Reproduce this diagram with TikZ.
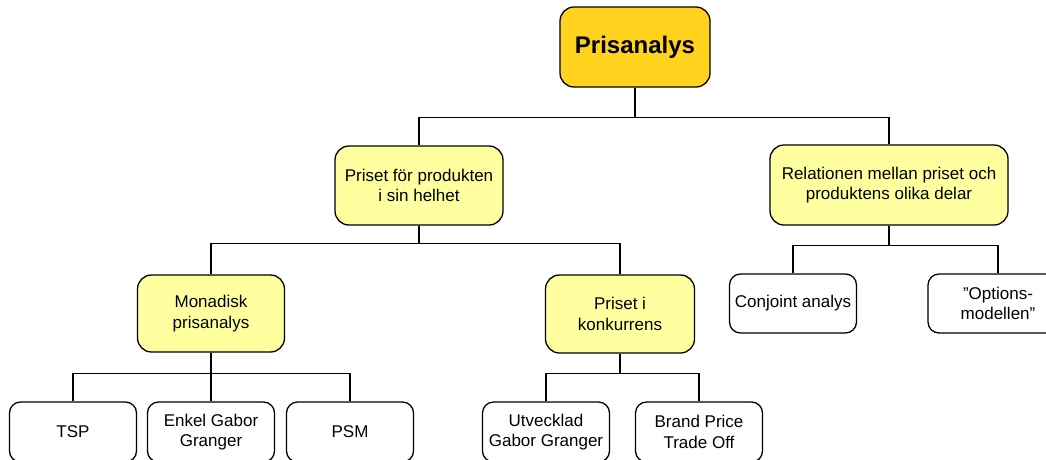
\documentclass[tikz,border=0pt]{standalone}
\usepackage{fontspec}
\setmainfont{Liberation Sans}
\usetikzlibrary{positioning}
\definecolor{guld}{RGB}{255,210,30}
\definecolor{ljusgul}{RGB}{255,255,160}
\tikzset{
	ruta/.style={draw=black, line width=1.3pt, rounded corners=14pt, align=center, inner sep=2pt,
		font=\fontsize{17}{20.5}\selectfont},
	toppruta/.style={ruta, fill=guld, minimum width=150pt, minimum height=80pt,
		font=\fontsize{24}{28}\selectfont\bfseries},
	mittruta/.style={ruta, fill=ljusgul},
	lovruta/.style={ruta, fill=white, rounded corners=11pt, minimum width=127pt, minimum height=60pt},
	grenlinje/.style={line width=1.3pt}
}
\newcommand{\gren}[3]{\draw[grenlinje] (#1.south) -- ++(0,#3) -| (#2.north);}

\begin{document}
\begin{tikzpicture}[x=1pt, y=-1pt]

	\clip (0,0) rectangle (1046,459);

	% niva 0 och 1
	\node[toppruta] (pris) at (635,47) {Prisanalys};
	\node[mittruta, minimum width=168pt, minimum height=79pt] (helhet) at (419,185.5) {Priset för produkten\\i sin helhet};
	\node[mittruta, minimum width=238pt, minimum height=80pt] (relation) at (889,185) {Relationen mellan priset och\\produktens olika delar};

	% niva 2
	\node[mittruta, minimum width=147pt, minimum height=77pt] (monadisk) at (211,313.5) {Monadisk\\prisanalys};
	\node[mittruta, minimum width=149pt, minimum height=78pt] (konkurrens) at (620,314) {Priset i\\konkurrens};
	\node[lovruta, minimum height=59pt] (conjoint) at (793,303.5) {Conjoint analys};
	\node[lovruta, minimum width=140pt, minimum height=59pt] (options) at (998,303.5) {”Options-\\modellen”};

	% niva 3
	\node[lovruta] (tsp) at (73,432) {TSP};
	\node[lovruta] (enkel) at (211,432) {Enkel Gabor\\Granger};
	\node[lovruta] (psm) at (350,432) {PSM};
	\node[lovruta] (utvecklad) at (546,432) {Utvecklad\\Gabor Granger};
	\node[lovruta] (brand) at (699,432) {Brand Price\\Trade Off};

	% grenar
	\gren{pris}{helhet}{30}
	\gren{pris}{relation}{30}
	\gren{helhet}{monadisk}{18}
	\gren{helhet}{konkurrens}{18}
	\gren{relation}{conjoint}{20}
	\gren{relation}{options}{20}
	\gren{monadisk}{tsp}{21}
	\gren{monadisk}{enkel}{21}
	\gren{monadisk}{psm}{21}
	\gren{konkurrens}{utvecklad}{20}
	\gren{konkurrens}{brand}{20}

\end{tikzpicture}
\end{document}
